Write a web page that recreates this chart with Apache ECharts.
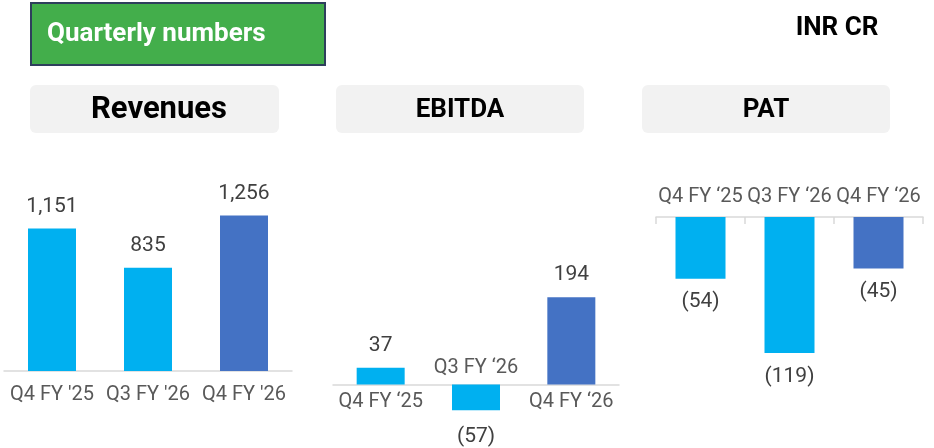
<!DOCTYPE html>
<html lang="en">
<head>
    <meta charset="UTF-8">
    <title>Quarterly numbers</title>
    <script src="https://cdn.jsdelivr.net/npm/echarts@6/dist/echarts.min.js"></script>
    <style>
        html, body { margin: 0; padding: 0; background: #fff; }
        #main { width: 934px; height: 448px; }
    </style>
</head>
<body>
<div id="main"></div>

<script>
    // categories for each panel (the quote marks differ in the source)
    var revCats = ["Q4 FY '25", "Q3 FY '26", "Q4 FY '26"];
    var ebitdaCats = ["Q4 FY \u201825", "Q3 FY \u201826", "Q4 FY \u201826"];
    var patCats = ["Q4 FY \u201825", "Q3 FY \u201826", "Q4 FY \u201826"];

    // values, INR CR
    var revenues = [1151, 835, 1256];
    var ebitda = [37, -57, 194];
    var pat = [-54, -119, -45];

    var lightBlue = '#00b0f0';
    var darkBlue = '#4472c4';
    var font = 'Roboto, "Noto Sans", sans-serif';

    // last quarter is drawn darker
    function barData(values) {
        return values.map(function (v, i) {
            return {
                value: v,
                itemStyle: { color: i === values.length - 1 ? darkBlue : lightBlue }
            };
        });
    }

    function fmt(v) {
        var s = Math.abs(v).toLocaleString('en-US');
        return v < 0 ? '(' + s + ')' : s;
    }

    var valueLabel = {
        show: true,
        fontFamily: font,
        fontSize: 21,
        color: '#404040',
        distance: 11,
        formatter: function (p) { return fmt(p.value); }
    };

    // EBITDA bars: negative value label goes under the bar
    var ebitdaData = barData(ebitda).map(function (d) {
        if (d.value < 0) d.label = { position: 'bottom', distance: 16 };
        return d;
    });

    // EBITDA: category names sit on the side of the zero line away from the bar
    var ebitdaNames = ebitda.map(function (v) {
        return {
            value: 0,
            label: { position: v < 0 ? 'top' : 'bottom' }
        };
    });

    var myChart = echarts.init(document.getElementById('main'));

    option = {
        animation: false,
        textStyle: { fontFamily: font },
        grid: [
            { left: 4, top: 173, width: 288, height: 198 },
            { left: 333, top: 272, width: 286, height: 157.5 },
            { left: 656, top: 217, width: 267, height: 171.5 }
        ],
        xAxis: [
            {
                gridIndex: 0, type: 'category', data: revCats,
                axisLine: { lineStyle: { color: '#d9d9d9', width: 1.5 } },
                axisTick: { show: false },
                axisLabel: { interval: 0, fontSize: 20, color: '#595959', margin: 14, fontFamily: font }
            },
            {
                gridIndex: 1, type: 'category', data: ebitdaCats,
                axisLine: { onZero: true, lineStyle: { color: '#d9d9d9', width: 1.5 } },
                axisTick: { show: false },
                axisLabel: { show: false }
            },
            {
                gridIndex: 2, type: 'category', data: patCats, position: 'top',
                axisLine: { lineStyle: { color: '#d9d9d9', width: 1.5 } },
                axisTick: { show: true, inside: true, length: 7, lineStyle: { color: '#d9d9d9', width: 1.5 } },
                axisLabel: { interval: 0, fontSize: 20, color: '#595959', margin: 10, fontFamily: font }
            }
        ],
        yAxis: [
            { gridIndex: 0, type: 'value', min: 0, max: 1600, show: false },
            { gridIndex: 1, type: 'value', min: -100, max: 250, show: false },
            { gridIndex: 2, type: 'value', min: -150, max: 0, show: false }
        ],
        series: [
            {
                type: 'bar', xAxisIndex: 0, yAxisIndex: 0, barWidth: 48,
                data: barData(revenues),
                label: Object.assign({}, valueLabel, { position: 'top' })
            },
            {
                type: 'bar', xAxisIndex: 1, yAxisIndex: 1, barWidth: 48,
                data: ebitdaData,
                label: Object.assign({}, valueLabel, { position: 'top', distance: 12 })
            },
            {
                type: 'bar', xAxisIndex: 1, yAxisIndex: 1, barWidth: 48, barGap: '-100%',
                data: ebitdaNames,
                silent: true,
                labelLayout: { hideOverlap: false },
                label: {
                    show: true, fontFamily: font, fontSize: 20, color: '#595959', distance: 7,
                    formatter: function (p) { return p.name; }
                }
            },
            {
                type: 'bar', xAxisIndex: 2, yAxisIndex: 2, barWidth: 50,
                data: barData(pat),
                label: Object.assign({}, valueLabel, { position: 'bottom', distance: 13 })
            }
        ],
        graphic: [
            {
                type: 'rect', left: 30, top: 2,
                shape: { width: 294, height: 62 },
                style: { fill: '#43ae4b', stroke: '#2e3f5c', lineWidth: 2 }
            },
            {
                type: 'text', x: 47, y: 34,
                style: { text: 'Quarterly numbers', fill: '#fff', font: 'bold 26px ' + font, verticalAlign: 'middle' }
            },
            {
                type: 'text', x: 837, y: 28,
                style: { text: 'INR CR', fill: '#000', font: 'bold 26px ' + font, align: 'center', verticalAlign: 'middle' }
            },
            {
                type: 'rect', left: 30, top: 85,
                shape: { width: 249, height: 48, r: 6 },
                style: { fill: '#f2f2f2' }
            },
            {
                type: 'rect', left: 336, top: 85,
                shape: { width: 248, height: 48, r: 6 },
                style: { fill: '#f2f2f2' }
            },
            {
                type: 'rect', left: 642, top: 85,
                shape: { width: 248, height: 48, r: 6 },
                style: { fill: '#f2f2f2' }
            },
            {
                type: 'text', x: 159, y: 110,
                style: { text: 'Revenues', fill: '#000', font: 'bold 31px ' + font, align: 'center', verticalAlign: 'middle' }
            },
            {
                type: 'text', x: 460, y: 110,
                style: { text: 'EBITDA', fill: '#000', font: 'bold 26px ' + font, align: 'center', verticalAlign: 'middle' }
            },
            {
                type: 'text', x: 766, y: 110,
                style: { text: 'PAT', fill: '#000', font: 'bold 26px ' + font, align: 'center', verticalAlign: 'middle' }
            }
        ]
    };

    myChart.setOption(option);
</script>
</body>
</html>
